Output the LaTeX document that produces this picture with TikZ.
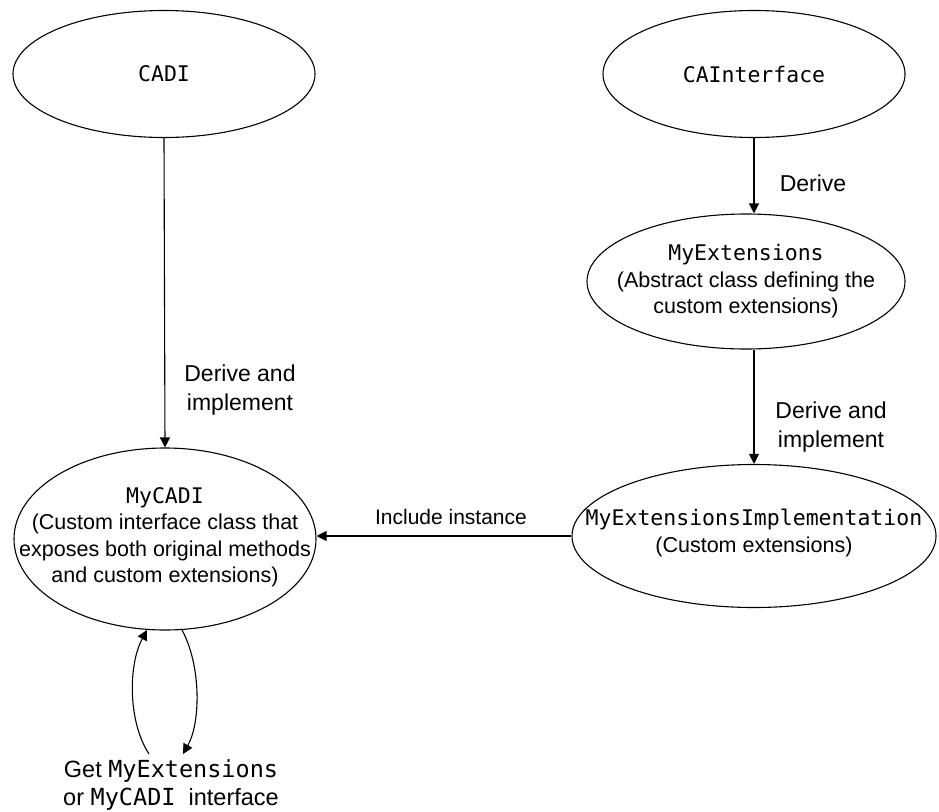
\documentclass[tikz,border=0pt]{standalone}
\usepackage{fontspec}
\setmainfont{Liberation Sans}
\setmonofont{DejaVu Sans Mono}
\usetikzlibrary{shapes.geometric,arrows.meta}
\begin{document}
\begin{tikzpicture}[x=1pt,y=-1pt,
  every node/.style={font=\fontsize{21.5}{26.5}\selectfont},
  oval/.style={ellipse,draw,line width=1.1pt,inner sep=0pt},
  txt/.style={align=center,inner sep=0pt},
  arr/.style={line width=1.1pt,-{Triangle[length=10pt,width=10pt]}},
  lbl/.style={align=center,inner sep=0pt,font=\fontsize{23}{29.5}\selectfont}]
\useasboundingbox (0,0) rectangle (939,811);
\node[oval,minimum width=302pt,minimum height=127pt] (cadi) at (164,74) {};
\node[txt] at (cadi) {\texttt{CADI}};
\node[oval,minimum width=302pt,minimum height=127pt] (cai) at (754,74) {};
\node[txt] at (cai) {\texttt{CAInterface}};
\node[oval,minimum width=318pt,minimum height=135pt] (myext) at (746,281.5) {};
\node[txt] at (myext) {\texttt{MyExtensions}\\(Abstract class defining the\\custom extensions)};
\node[oval,minimum width=364pt,minimum height=143pt] (myimpl) at (754,536) {};
\node[txt] at ([yshift=3pt]myimpl) {\texttt{MyExtensionsImplementation}\\(Custom extensions)};
\node[oval,minimum width=302pt,minimum height=182pt] (mycadi) at (165,539) {};
\node[txt] at ([yshift=2pt]mycadi) {\texttt{MyCADI}\\(Custom interface class that\\exposes both original methods\\and custom extensions)};
\node[lbl,font=\fontsize{23.5}{28}\selectfont] (get) at (171,785) {Get \texttt{MyExtensions}\\or \texttt{MyCADI}\ \ interface};
\coordinate (la) at (149,754);
\coordinate (lb) at (147,630);
\coordinate (ra) at (182,630);
\coordinate (rb) at (183,754);
\draw[arr] (cadi.south) -- (mycadi.north);
\draw[arr] (cai.south) -- (cai.south |- myext.north);
\draw[arr] (myimpl.north |- myext.south) -- (myimpl.north);
\draw[arr] (myimpl.west) -- (myimpl.west -| mycadi.east);
\draw[arr] (ra) .. controls (201,665) and (201,722) .. (rb);
\draw[arr] (la) .. controls (128,722) and (128,665) .. (lb);
\node[lbl] at (240,390) {Derive and\\implement};
\node[lbl] at (813,183) {Derive};
\node[lbl] at (831,427) {Derive and\\implement};
\node[lbl,font=\fontsize{21}{25}\selectfont] at (451,517) {Include instance};
\end{tikzpicture}
\end{document}
